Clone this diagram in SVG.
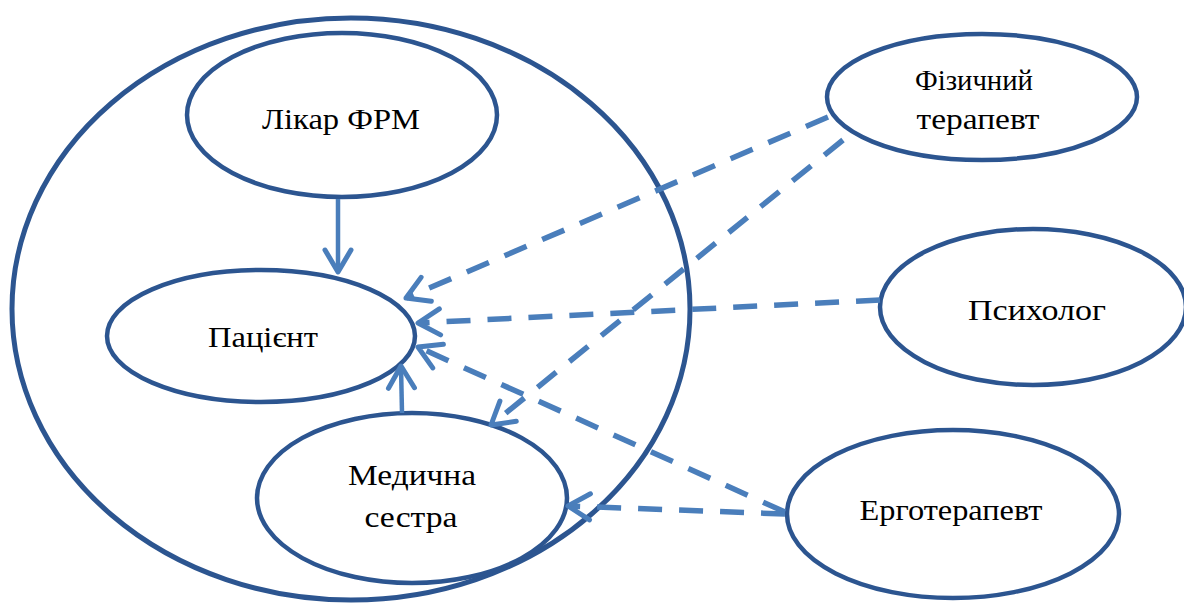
<svg xmlns="http://www.w3.org/2000/svg" width="1184" height="605" viewBox="0 0 1184 605">
<style>
.node{fill:#fff;stroke:#2c5590;stroke-width:4.5}
.outer{fill:none;stroke:#2c5590;stroke-width:5}
.lbl{font-family:"Liberation Serif","Times New Roman",serif;font-size:30px;fill:#000;text-anchor:middle}
.solid{stroke:#4a7ebb;stroke-width:4.5;fill:none}
.dash{stroke:#4a7ebb;stroke-width:5.5;fill:none;stroke-dasharray:24 17}
</style>
<defs>
<marker id="arr" markerUnits="userSpaceOnUse" markerWidth="40" markerHeight="40" refX="0" refY="0" viewBox="-30 -20 40 40" orient="auto" overflow="visible">
<path d="M -22 -13 L 0 0 L -22 13" fill="none" stroke="#4a7ebb" stroke-width="5" stroke-linecap="round" stroke-linejoin="round"/>
</marker>
</defs>
<ellipse id="outer" class="outer" cx="351" cy="309" rx="339" ry="291"/>
<g id="likar"><ellipse class="node" cx="342" cy="115" rx="155" ry="82"/><text class="lbl" x="341" y="129" textLength="158" lengthAdjust="spacingAndGlyphs">Лікар ФРМ</text></g>
<g id="patsient"><ellipse class="node" cx="261" cy="336" rx="154" ry="66"/><text class="lbl" x="263" y="347" textLength="110" lengthAdjust="spacingAndGlyphs">Пацієнт</text></g>
<g id="medsestra"><ellipse class="node" cx="412" cy="498" rx="155" ry="85"/><text class="lbl" x="412" y="485" textLength="128" lengthAdjust="spacingAndGlyphs">Медична</text><text class="lbl" x="411" y="527" textLength="93" lengthAdjust="spacingAndGlyphs">сестра</text></g>
<g id="fizterapevt"><ellipse class="node" cx="982" cy="97" rx="155" ry="63"/><text class="lbl" x="974" y="90" textLength="118" lengthAdjust="spacingAndGlyphs">Фізичний</text><text class="lbl" x="978" y="129" textLength="123" lengthAdjust="spacingAndGlyphs">терапевт</text></g>
<g id="psykholoh"><ellipse class="node" cx="1033" cy="307" rx="153" ry="78"/><text class="lbl" x="1037" y="320" textLength="138" lengthAdjust="spacingAndGlyphs">Психолог</text></g>
<g id="erhoterapevt"><ellipse class="node" cx="953" cy="514" rx="166" ry="84"/><text class="lbl" x="951" y="520" textLength="183" lengthAdjust="spacingAndGlyphs">Ерготерапевт</text></g>
<g id="connectors">
<line class="solid" x1="338" y1="199" x2="338" y2="272" marker-end="url(#arr)"/>
<line class="solid" x1="402" y1="413" x2="401" y2="366" marker-end="url(#arr)"/>
<line class="dash" x1="828" y1="117" x2="406" y2="298" marker-end="url(#arr)"/>
<line class="dash" x1="843" y1="140" x2="491" y2="425" marker-end="url(#arr)"/>
<line class="dash" x1="880" y1="300" x2="418" y2="323" marker-end="url(#arr)"/>
<line class="dash" x1="785" y1="512" x2="418" y2="347" marker-end="url(#arr)"/>
<line class="dash" x1="785" y1="514" x2="568" y2="506" marker-end="url(#arr)"/>
</g>
</svg>
